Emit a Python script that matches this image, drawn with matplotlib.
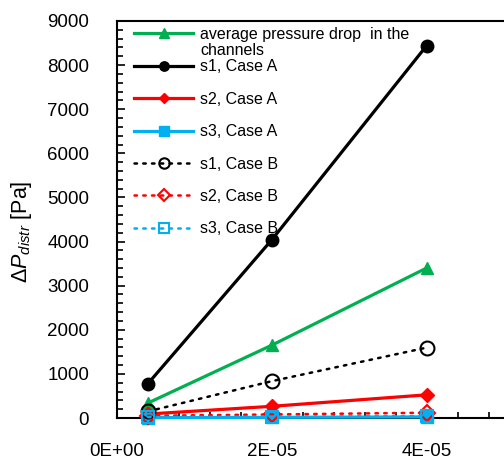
import numpy as np
import matplotlib
matplotlib.use("Agg")
import matplotlib.pyplot as plt
from matplotlib.ticker import FixedLocator, MultipleLocator, FixedFormatter

plt.rcParams['font.family'] = ['Liberation Sans', 'DejaVu Sans']
plt.rcParams['mathtext.fontset'] = 'custom'
plt.rcParams['mathtext.it'] = 'Liberation Sans:italic'
plt.rcParams['mathtext.rm'] = 'Liberation Sans'

# data
x = [4e-6, 2e-5, 4e-5]
avg_channels = [340, 1650, 3400]
s1_a = [780, 4040, 8440]
s2_a = [90, 265, 525]
s3_a = [10, 15, 25]
s1_b = [150, 835, 1595]
s2_b = [50, 80, 120]
s3_b = [20, 30, 45]

xtick_vals = [0, 2e-5, 4e-5]
xtick_labels = ['0E+00', '2E-05', '4E-05']

green = '#00B050'
red = '#FF0000'
blue = '#00B0F0'

fig = plt.figure(figsize=(5.04, 4.61), dpi=100)
ax = fig.add_axes([117/504, 1 - 418/461, 387/504, 397/461])

lw = 2.3
dot = (0, (1, 2.5))
ax.plot(x, avg_channels, color=green, lw=lw, marker='^', ms=9,
        label='average pressure drop  in the', clip_on=False, zorder=3)
ax.plot(x, s1_a, color='black', lw=lw, marker='o', ms=9,
        label='s1, Case A', clip_on=False, zorder=3)
ax.plot(x, s2_a, color=red, lw=lw, marker='D', ms=7,
        label='s2, Case A', clip_on=False, zorder=3)
ax.plot(x, s3_a, color=blue, lw=lw, marker='s', ms=9,
        label='s3, Case A', clip_on=False, zorder=3)
ax.plot(x, s1_b, color='black', lw=1.8, ls=dot, marker='o', ms=10,
        mfc='none', mew=1.5, dash_capstyle='round', label='s1, Case B',
        clip_on=False, zorder=4)
ax.plot(x, s2_b, color=red, lw=1.8, ls=dot, marker='D', ms=8,
        mfc='none', mew=1.5, dash_capstyle='round', label='s2, Case B',
        clip_on=False, zorder=4)
ax.plot(x, s3_b, color=blue, lw=1.8, ls=dot, marker='s', ms=9,
        mfc='none', mew=1.5, dash_capstyle='round', label='s3, Case B',
        clip_on=False, zorder=4)

ax.set_xlim(0, 5e-5)
ax.set_ylim(0, 9000)
ax.spines['right'].set_visible(False)
for s in ['left', 'bottom', 'top']:
    ax.spines[s].set_linewidth(1.5)

ax.xaxis.set_major_locator(FixedLocator(xtick_vals))
ax.xaxis.set_major_formatter(FixedFormatter(xtick_labels))
ax.xaxis.set_minor_locator(MultipleLocator(4e-6))
ax.yaxis.set_major_locator(MultipleLocator(1000))
ax.yaxis.set_minor_locator(MultipleLocator(200))
ax.tick_params(which='both', direction='in', top=False, right=False, width=1.2)
ax.tick_params(which='major', length=6)
ax.tick_params(which='minor', length=4)
ax.tick_params(axis='y', which='major', pad=20, labelsize=13.5)
ax.tick_params(axis='x', which='major', pad=18, labelsize=13.5)

ax.set_ylabel(r'$\mathit{\Delta P}_{\mathit{distr}}$ [Pa]', fontsize=15.5)
ax.yaxis.set_label_coords(-0.214, 0.468)

leg = ax.legend(loc='upper left', bbox_to_anchor=(0.044, 0.985), frameon=False,
                fontsize=11.5, handlelength=3.7, handletextpad=0.45,
                labelspacing=1.09, borderpad=0, borderaxespad=0,
                markerscale=0.75)

# second line of the first legend entry sits under it, like the original
fig.canvas.draw()
bb = leg.get_texts()[0].get_window_extent()
x0, y0 = fig.transFigure.inverted().transform((bb.x0, bb.y0 - 1))
fig.text(x0, y0, 'channels', fontsize=11.5, va='top', ha='left')

fig.savefig('out.png', dpi=100)
